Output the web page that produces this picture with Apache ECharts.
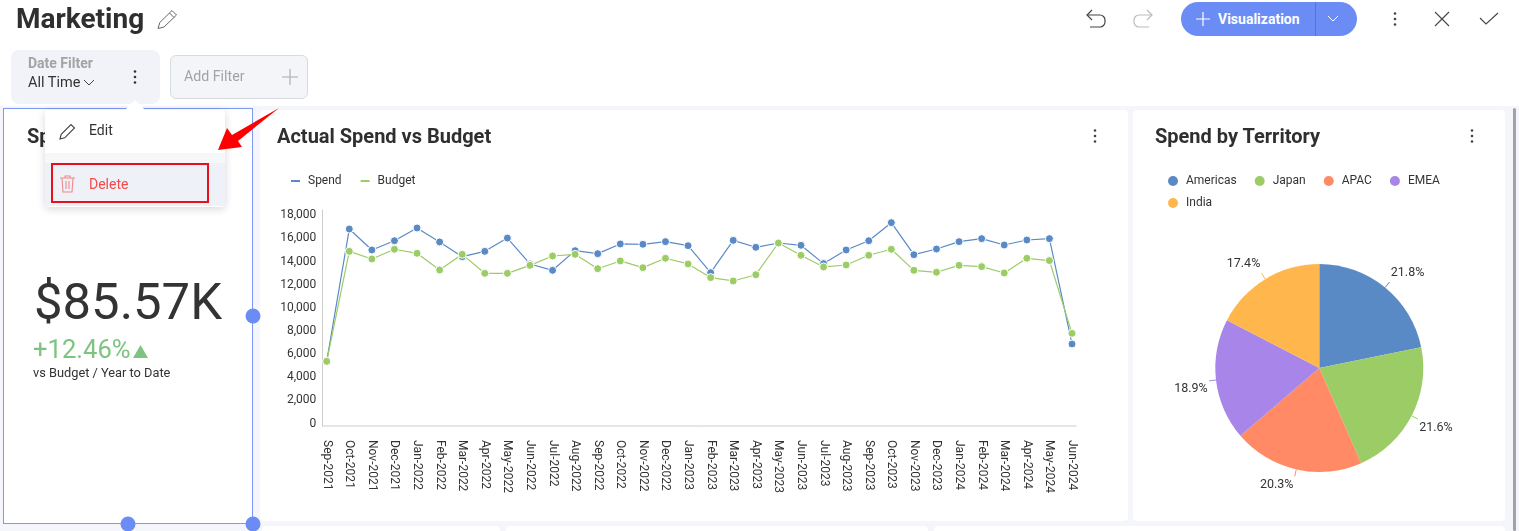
<!DOCTYPE html>
<html>
<head>
<meta charset="utf-8">
<title>Marketing</title>
<script src="https://cdn.jsdelivr.net/npm/echarts@6/dist/echarts.min.js"></script>
<style>
    html,body{margin:0;padding:0;width:1519px;height:531px;overflow:hidden;background:#fff;font-family:Roboto,sans-serif;color:#333;}
    .abs{position:absolute;}
    .txt{position:absolute;white-space:nowrap;line-height:1;}
    .stage{position:absolute;left:0;top:106px;width:1519px;height:425px;background:#f4f6fb;}
    .card{position:absolute;background:#fff;border-radius:4px;}
    .title{font-size:20px;font-weight:700;color:#2f2f2f;}
    svg{position:absolute;overflow:visible;}
    #chart{position:absolute;left:0;top:0;width:1519px;height:531px;}
</style>
</head>
<body>
<div class="stage"></div>

<!-- 卡片 -->
<div class="card" style="left:3px;top:108px;width:250px;height:416px;"></div>
<div class="card" style="left:260px;top:110px;width:868px;height:411px;"></div>
<div class="card" style="left:1133px;top:110px;width:372px;height:411px;"></div>
<div class="card" style="left:262px;top:526px;width:238px;height:10px;"></div>
<div class="card" style="left:506px;top:526px;width:422px;height:10px;"></div>
<div class="card" style="left:934px;top:526px;width:571px;height:10px;"></div>
<div class="abs" style="left:1513px;top:108px;width:3px;height:423px;background:#a0a2a8;border-radius:2px;"></div>

<div id="chart"></div>

<!-- 顶部 -->
<div class="txt" style="left:16px;top:5px;font-size:28px;font-weight:700;color:#2f2f2f;">Marketing</div>
<svg style="left:157px;top:9px" width="22" height="22" fill="none" stroke="#666" stroke-width="1"><path d="M1 19.5l1.8-6L15 1.5l4.5 4.5L7 18z"/><path d="M12.5 4l4.5 4.5"/></svg>

<svg style="left:1086px;top:9px" width="20" height="20" fill="none" stroke="#444" stroke-width="1.2"><path d="M6 1L1 6l5 5"/><path d="M1 6h13a5 5 0 0 1 5 5v2a5 5 0 0 1-5 5H4"/></svg>
<svg style="left:1133px;top:9px" width="20" height="20" fill="none" stroke="#bbb" stroke-width="1.2"><path d="M14 1l5 5-5 5"/><path d="M19 6H6a5 5 0 0 0-5 5v2a5 5 0 0 0 5 5h10"/></svg>

<div class="abs" style="left:1181px;top:2px;width:176px;height:34px;border-radius:17px;background:#6b8cf5;"></div>
<div class="abs" style="left:1315px;top:2px;width:1px;height:34px;background:#5674d8;"></div>
<svg style="left:1196px;top:12px" width="14" height="14" stroke="#fff" stroke-width="1.2"><path d="M7 0v14M0 7h14"/></svg>
<div class="txt" style="left:1218px;top:12px;font-size:14px;font-weight:700;color:#fff;">Visualization</div>
<svg style="left:1328px;top:16px" width="10" height="6" fill="none" stroke="#fff" stroke-width="1"><path d="M0 0l5 5 5-5"/></svg>

<svg style="left:1393px;top:12px" width="4" height="14" fill="#444"><circle cx="2" cy="1.5" r="1.3"/><circle cx="2" cy="7" r="1.3"/><circle cx="2" cy="12.5" r="1.3"/></svg>
<svg style="left:1435px;top:12px" width="14" height="14" stroke="#444" stroke-width="1.1"><path d="M0 0l14 14M14 0L0 14"/></svg>
<svg style="left:1480px;top:13px" width="18" height="12" fill="none" stroke="#444" stroke-width="1.1"><path d="M0 5l6 6L18 0"/></svg>

<!-- 筛选 -->
<div class="abs" style="left:11px;top:50px;width:149px;height:54px;border-radius:8px;background:#f1f3f8;"></div>
<div class="txt" style="left:28px;top:56px;font-size:14px;font-weight:700;color:#a3a3a3;">Date Filter</div>
<div class="txt" style="left:28px;top:76px;font-size:14.5px;color:#333;">All Time</div>
<svg style="left:84px;top:80px" width="10" height="6" fill="none" stroke="#444" stroke-width="1"><path d="M0 0l5 5 5-5"/></svg>
<svg style="left:133px;top:70px" width="4" height="14" fill="#333"><circle cx="2" cy="1.5" r="1.3"/><circle cx="2" cy="7" r="1.3"/><circle cx="2" cy="12.5" r="1.3"/></svg>
<div class="abs" style="left:170px;top:55px;width:136px;height:42px;border-radius:6px;background:#f4f5f9;border:1px solid #d8dbe0;"></div>
<div class="txt" style="left:184px;top:69px;font-size:14.2px;color:#a3a3a3;">Add Filter</div>
<svg style="left:282px;top:69px" width="16" height="16" stroke="#aaa" stroke-width="1.1"><path d="M8 0v16M0 8h16"/></svg>

<!-- 指标卡 -->
<div class="abs" style="left:3px;top:108px;width:248px;height:414px;border:1px solid #7d97f5;"></div>
<div class="txt title" style="left:27px;top:126px;">Spend</div>
<div class="txt" style="left:34px;top:277px;font-size:50.8px;font-weight:400;color:#333;">$85.57K</div>
<div class="txt" style="left:33px;top:337px;font-size:25.6px;color:#7cc47f;">+12.46%</div>
<svg style="left:133px;top:345px" width="15" height="13" fill="#7cc47f"><path d="M7.5 0L15 13H0z"/></svg>
<div class="txt" style="left:33px;top:367px;font-size:12.8px;color:#333;">vs Budget / Year to Date</div>
<svg style="left:0;top:0" width="1519" height="531" fill="#6b8cf5"><circle cx="253" cy="316" r="7.5"/><circle cx="128" cy="524" r="7.5"/><circle cx="253" cy="524" r="7.5"/></svg>

<!-- 弹出菜单 -->
<div class="abs" style="left:45px;top:110px;width:180px;height:97px;background:#fff;border-radius:4px;box-shadow:0 2px 8px rgba(0,0,0,.16);"></div>
<svg style="left:125px;top:99px" width="20" height="12" fill="#fff"><path d="M0 11L10 1l10 10z"/></svg>
<div class="abs" style="left:45px;top:153px;width:180px;height:10px;background:#f6f7f9;"></div>
<div class="abs" style="left:45px;top:163px;width:180px;height:43px;background:#eef1f8;"></div>
<svg style="left:59px;top:122px" width="18" height="18" fill="none" stroke="#444" stroke-width="1.1"><path d="M1 17l1.2-4.6L12 2.5l3.5 3.5-9.8 9.8z"/></svg>
<div class="txt" style="left:89px;top:123px;font-size:14px;color:#333;">Edit</div>
<svg style="left:60px;top:175px" width="15" height="18" fill="none" stroke="#f08a8a" stroke-width="1.1"><path d="M0 3h15M5 3V1h5v2M2 3l1 14h9l1-14M6 6v8M9 6v8"/></svg>
<div class="txt" style="left:89px;top:177px;font-size:14px;color:#f44a4a;">Delete</div>
<div class="abs" style="left:51px;top:163px;width:154px;height:36px;border:2px solid #e8101a;"></div>
<svg style="left:0;top:0" width="1519" height="531" fill="#f00"><path d="M279 108L232 135 227 128 218 150 242 147 238 141z"/></svg>

<div class="txt title" style="left:277px;top:126px;">Actual Spend vs Budget</div>
<svg style="left:1093px;top:129px" width="4" height="14" fill="#444"><circle cx="2" cy="1.5" r="1.3"/><circle cx="2" cy="7" r="1.3"/><circle cx="2" cy="12.5" r="1.3"/></svg>
<div class="txt title" style="left:1155px;top:126px;">Spend by Territory</div>
<svg style="left:1470px;top:129px" width="4" height="14" fill="#444"><circle cx="2" cy="1.5" r="1.3"/><circle cx="2" cy="7" r="1.3"/><circle cx="2" cy="12.5" r="1.3"/></svg>

<script>
// 月份
var months = ['Sep-2021','Oct-2021','Nov-2021','Dec-2021','Jan-2022','Feb-2022','Mar-2022','Apr-2022','May-2022','Jun-2022','Jul-2022','Aug-2022',
    'Sep-2022','Oct-2022','Nov-2022','Dec-2022','Jan-2023','Feb-2023','Mar-2023','Apr-2023','May-2023','Jun-2023','Jul-2023','Aug-2023',
    'Sep-2023','Oct-2023','Nov-2023','Dec-2023','Jan-2024','Feb-2024','Mar-2024','Apr-2024','May-2024','Jun-2024'];
var spend = [5590,17030,15220,16020,17120,15910,14640,15100,16250,14010,13460,15160,
    14900,15740,15710,15940,15590,13260,16050,15450,15820,15620,14040,15220,
    16020,17580,14810,15300,15940,16200,15650,16080,16200,7090];
var budget = [5590,15100,14440,15280,14930,13490,14840,13200,13200,13890,14700,14840,
    13600,14270,13690,14500,14010,12830,12540,13080,15820,14760,13750,13920,
    14760,15280,13460,13290,13890,13780,13230,14500,14300,8010];
// 地区占比
var territories = ['Americas','Japan','APAC','EMEA','India'];
var shares = [21.8,21.6,20.3,18.9,17.4];
var territoryColors = ['#5a8ac6','#9ccc65','#ff8a65','#a885e8','#ffb74d'];

var textColor = '#333';
var pieData = [];
for(var i=0;i<territories.length;i++){
    pieData.push({name:territories[i],value:shares[i],itemStyle:{color:territoryColors[i]}});
}

// 扇区中线角度，标签按所在象限偏移
function midAngle(index){
    var sum = 0, before = 0;
    for(var k=0;k<shares.length;k++){
        sum += shares[k];
        if(k<index){ before += shares[k]; }
    }
    return (before + shares[index]/2)/sum*Math.PI*2;
}

var pieLegend = {
    left:1168,
    padding:0,
    icon:'circle',
    itemWidth:16,
    itemHeight:10,
    itemGap:18,
    textStyle:{fontSize:12,color:textColor,fontFamily:'Roboto'}
};

var myChart = echarts.init(document.getElementById('chart'));
var option = {
    animation:false,
    backgroundColor:'transparent',
    textStyle:{fontFamily:'Roboto'},
    legend:[
        {
            data:['Spend','Budget'],
            left:291,
            top:175,
            padding:0,
            icon:'rect',
            itemWidth:9,
            itemHeight:2,
            itemGap:19,
            itemStyle:{borderWidth:0},
            textStyle:{fontSize:12,color:textColor,fontFamily:'Roboto',padding:[0,0,0,3]}
        },
        echarts.util.extend({data:territories.slice(0,4),top:175},pieLegend),
        echarts.util.extend({data:territories.slice(4),top:197},pieLegend)
    ],
    grid:{left:326.7,top:210,width:745.3,height:216,containLabel:false},
    xAxis:{
        type:'category',
        data:months,
        boundaryGap:false,
        axisLine:{show:false},
        axisTick:{show:false},
        axisLabel:{interval:0,rotate:-90,margin:14,fontSize:12,color:textColor,fontFamily:'Roboto'}
    },
    yAxis:{
        type:'value',
        min:0,
        max:18675,
        interval:2000,
        offset:4.4,
        splitLine:{show:false},
        axisTick:{show:false},
        axisLine:{show:true,lineStyle:{color:'#ccc',width:1}},
        axisLabel:{
            showMaxLabel:false,
            margin:6,
            fontSize:12,
            color:textColor,
            fontFamily:'Roboto',
            verticalAlign:'bottom',
            lineHeight:5,
            formatter:function(v){return v.toLocaleString('en-US');}
        }
    },
    // x轴线比数据范围长一点
    graphic:[{type:'line',shape:{x1:322.3,y1:426,x2:1076.7,y2:426},style:{stroke:'#ccc',lineWidth:1},silent:true}],
    series:[
        {
            name:'Spend',type:'line',data:spend,
            symbol:'circle',symbolSize:8,showSymbol:true,
            lineStyle:{color:territoryColors[0],width:1.2},
            itemStyle:{color:territoryColors[0],borderColor:'#fff',borderWidth:1}
        },
        {
            name:'Budget',type:'line',data:budget,
            symbol:'circle',symbolSize:8,showSymbol:true,
            lineStyle:{color:territoryColors[1],width:1.2},
            itemStyle:{color:territoryColors[1],borderColor:'#fff',borderWidth:1}
        },
        {
            name:'Territory',type:'pie',
            center:[1319.3,368],
            radius:[0,104],
            startAngle:90,
            clockwise:true,
            data:pieData,
            label:{formatter:'{c}%',fontSize:12.5,color:textColor,fontFamily:'Roboto'},
            labelLine:{length:7,length2:0,lineStyle:{width:1}},
            labelLayout:function(params){
                var a = midAngle(params.dataIndex);
                return {dx:Math.sin(a)>0?-3.7:3.7,dy:Math.cos(a)>0?-9:8.5};
            }
        }
    ]
};
myChart.setOption(option);
</script>
</body>
</html>
